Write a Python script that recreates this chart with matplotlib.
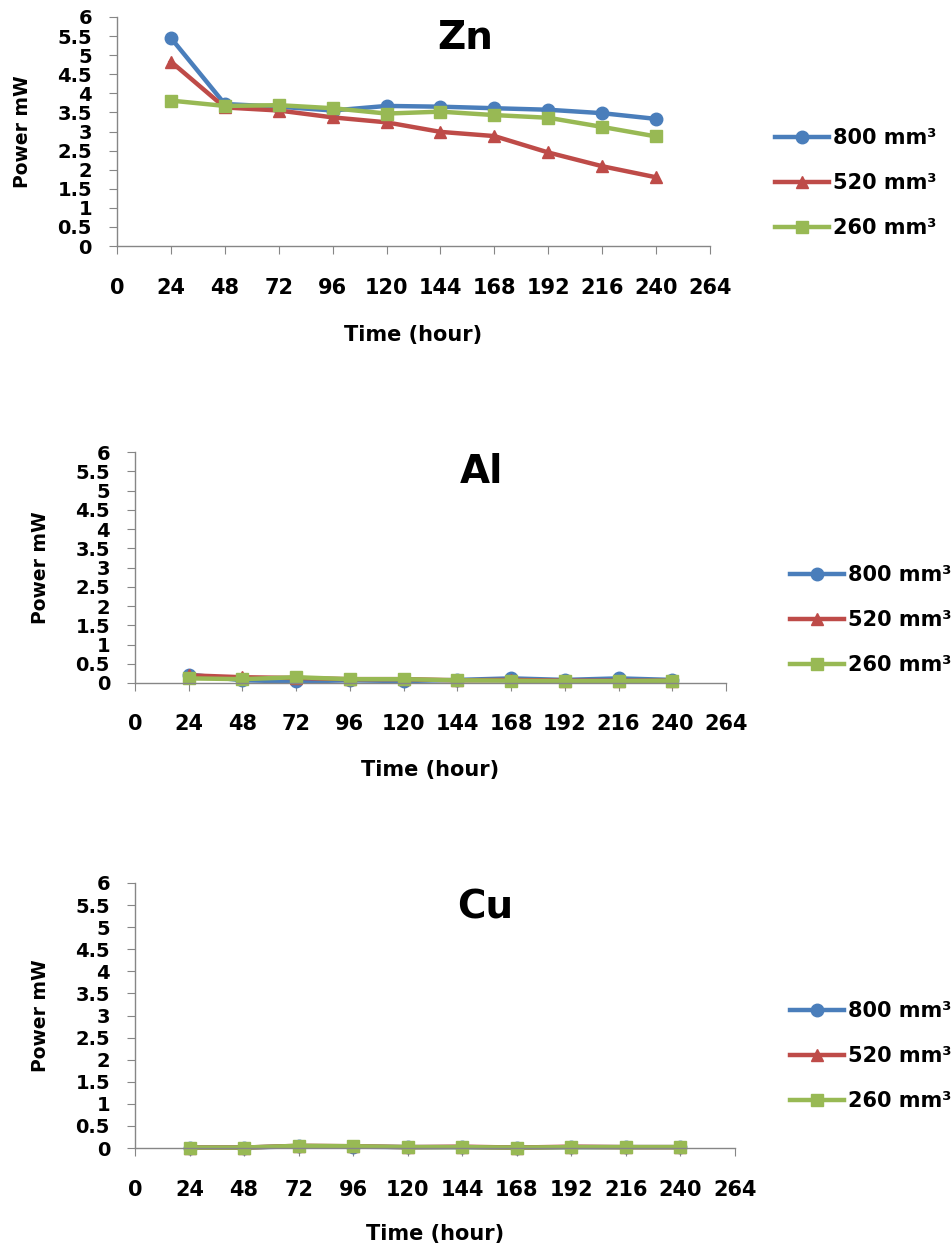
import matplotlib
matplotlib.use("Agg")
import matplotlib.pyplot as plt
from matplotlib.lines import Line2D

hours = [24, 48, 72, 96, 120, 144, 168, 192, 216, 240]
xticks = [0, 24, 48, 72, 96, 120, 144, 168, 192, 216, 240, 264]
yticks = [0, 0.5, 1, 1.5, 2, 2.5, 3, 3.5, 4, 4.5, 5, 5.5, 6]
ytick_labels = ["0", "0.5", "1", "1.5", "2", "2.5", "3", "3.5", "4", "4.5", "5", "5.5", "6"]
series_names = ["800 mm³", "520 mm³", "260 mm³"]

zn_800 = [5.45, 3.72, 3.65, 3.55, 3.67, 3.65, 3.61, 3.57, 3.48, 3.33]
zn_520 = [4.83, 3.63, 3.55, 3.37, 3.24, 2.99, 2.88, 2.45, 2.09, 1.80]
zn_260 = [3.81, 3.67, 3.69, 3.61, 3.47, 3.52, 3.43, 3.36, 3.12, 2.87]

al_800 = [0.22, 0.07, 0.04, 0.07, 0.05, 0.08, 0.12, 0.08, 0.12, 0.08]
al_520 = [0.20, 0.15, 0.13, 0.10, 0.10, 0.07, 0.08, 0.06, 0.06, 0.06]
al_260 = [0.12, 0.10, 0.15, 0.10, 0.10, 0.07, 0.06, 0.05, 0.05, 0.06]

cu_800 = [0.01, 0.01, 0.04, 0.03, 0.02, 0.02, 0.01, 0.02, 0.02, 0.02]
cu_520 = [0.01, 0.01, 0.05, 0.04, 0.02, 0.03, 0.01, 0.03, 0.02, 0.02]
cu_260 = [0.01, 0.01, 0.05, 0.04, 0.02, 0.02, 0.01, 0.02, 0.02, 0.02]

colors = ["#4A7EBB", "#BE4B48", "#98B954"]
markers = ["o", "^", "s"]

FONT = ["DejaVu Sans"]
plt.rcParams["font.family"] = FONT

fig = plt.figure(figsize=(9.53, 12.49), dpi=100)

panels = [
    dict(title="Zn", data=[zn_800, zn_520, zn_260],
         rect=[117/953, 1-246/1249, 593/953, 229/1249],
         title_pos=(0.587, 0.908), xlab_y=-0.389, ylab_x=-0.143, xpad=17,
         leg=(775/953, 1-183/1249)),
    dict(title="Al", data=[al_800, al_520, al_260],
         rect=[135/953, 1-683/1249, 591/953, 231/1249],
         title_pos=(0.587, 0.913), xlab_y=-0.377, ylab_x=-0.144, xpad=16.5,
         leg=(790/953, 1-620/1249)),
    dict(title="Cu", data=[cu_800, cu_520, cu_260],
         rect=[135/953, 1-1148/1249, 600/953, 265/1249],
         title_pos=(0.584, 0.909), xlab_y=-0.325, ylab_x=-0.142, xpad=17,
         leg=(790/953, 1-1056/1249)),
]

for p in panels:
    ax = fig.add_axes(p["rect"])
    for vals, c, m, name in zip(p["data"], colors, markers, series_names):
        ax.plot(hours, vals, color=c, marker=m, markersize=9, linewidth=3.2,
                label=name, clip_on=False)
    ax.set_xlim(0, 264)
    ax.set_ylim(0, 6)
    ax.set_xticks(xticks)
    ax.set_xticklabels([str(t) for t in xticks], fontweight="bold", fontsize=15)
    ax.set_yticks(yticks)
    ax.set_yticklabels(ytick_labels, fontweight="bold", fontsize=14)
    for s in ["top", "right"]:
        ax.spines[s].set_visible(False)
    for s in ["left", "bottom"]:
        ax.spines[s].set_color("#868686")
        ax.spines[s].set_linewidth(1)
    ax.tick_params(axis="x", direction="out", length=6, color="#868686",
                   pad=p["xpad"])
    ax.tick_params(axis="y", direction="out", length=6, color="#868686",
                   pad=12)
    ax.text(p["title_pos"][0], p["title_pos"][1], p["title"], transform=ax.transAxes,
            ha="center", va="center", fontsize=28, fontweight="bold")
    ax.set_xlabel("Time (hour)", fontsize=15, fontweight="bold")
    ax.xaxis.label.set_va("center")
    ax.xaxis.set_label_coords(0.5, p["xlab_y"])
    ax.set_ylabel("Power mW", fontsize=13.5, fontweight="bold")
    ax.yaxis.set_label_coords(p["ylab_x"], 0.5)
    handles = [Line2D([0], [0], color=c, marker=m, markersize=9, linewidth=3.2)
               for c, m in zip(colors, markers)]
    fig.legend(handles, series_names, loc="center left", bbox_to_anchor=p["leg"],
               frameon=False, borderpad=0, borderaxespad=0, handlelength=2.6,
               handletextpad=0.2, labelspacing=1.2,
               prop=dict(family=FONT, weight="bold", size=15))

fig.savefig("out.png", dpi=100)
